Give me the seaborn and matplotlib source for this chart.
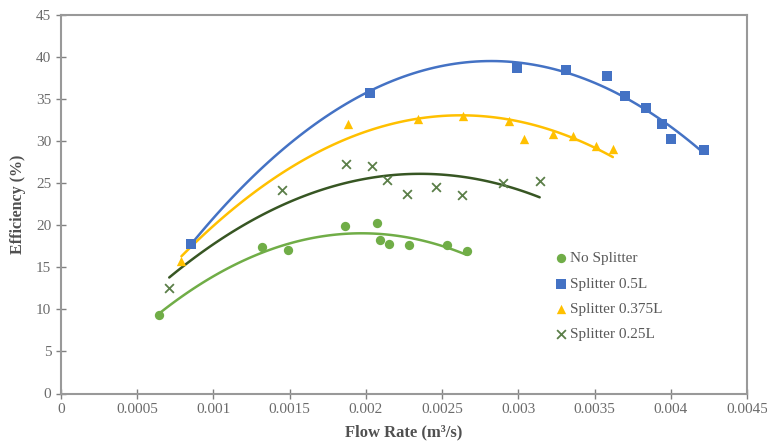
import matplotlib
matplotlib.use("Agg")
import matplotlib.pyplot as plt
import seaborn as sns
import numpy as np
import pandas as pd

# ---- data ----
no_split_x = [0.00064, 0.00132, 0.00149, 0.00186, 0.00207, 0.00209, 0.00215, 0.00228, 0.00253, 0.00266]
no_split_y = [9.3, 17.4, 17.1, 19.9, 20.3, 18.3, 17.8, 17.6, 17.6, 16.9]

s05_x = [0.00085, 0.00203, 0.00299, 0.00331, 0.00358, 0.00370, 0.00384, 0.00394, 0.00400, 0.00422]
s05_y = [17.8, 35.7, 38.7, 38.5, 37.7, 35.4, 34.0, 32.1, 30.3, 28.9]

s0375_x = [0.00079, 0.00188, 0.00234, 0.00264, 0.00294, 0.00304, 0.00323, 0.00336, 0.00351, 0.00362]
s0375_y = [15.8, 32.0, 32.6, 33.0, 32.4, 30.3, 30.8, 30.6, 29.4, 29.1]

s025_x = [0.00071, 0.00145, 0.00187, 0.00204, 0.00214, 0.00227, 0.00246, 0.00263, 0.00290, 0.00314]
s025_y = [12.6, 24.2, 27.3, 27.1, 25.4, 23.7, 24.6, 23.6, 25.0, 25.3]

labels = ["No Splitter", "Splitter 0.5L", "Splitter 0.375L", "Splitter 0.25L"]
x_ticks = [0, 0.0005, 0.001, 0.0015, 0.002, 0.0025, 0.003, 0.0035, 0.004, 0.0045]
x_tick_labels = ["0", "0.0005", "0.001", "0.0015", "0.002", "0.0025", "0.003", "0.0035", "0.004", "0.0045"]
y_ticks = [0, 5, 10, 15, 20, 25, 30, 35, 40, 45]

sns.set_theme(style="white")
plt.rcParams["font.family"] = ["Liberation Serif", "DejaVu Serif"]

fig = plt.figure(figsize=(7.67, 4.45), dpi=100)
ax = fig.add_axes([61/767, 1-393.5/445, (747-61)/767, (393.5-15)/445])

series = [
    (no_split_x, no_split_y, labels[0], "o", "#70AD47", "#70AD47"),
    (s05_x, s05_y, labels[1], "s", "#4472C4", "#4472C4"),
    (s0375_x, s0375_y, labels[2], "^", "#FFC000", "#FFC000"),
    (s025_x, s025_y, labels[3], "x", "#5B7F49", "#375623"),
]

handles = []
for xs, ys, lab, mk, mcol, lcol in series:
    df = pd.DataFrame({"x": xs, "y": ys})
    sns.regplot(data=df, x="x", y="y", order=2, ci=None, ax=ax, scatter=False,
                line_kws=dict(color=lcol, lw=1.8))
    if mk == "x":
        h = ax.scatter(xs, ys, marker="x", s=40, color=mcol, linewidths=1.3, label=lab, zorder=3)
    else:
        h = ax.scatter(xs, ys, marker=mk, s=45, color=mcol, linewidths=0, label=lab, zorder=3)
    handles.append(h)

ax.set_xlim(0, 0.0045)
ax.set_ylim(0, 45)
ax.set_xticks(x_ticks)
ax.set_xticklabels(x_tick_labels)
ax.set_yticks(y_ticks)
ax.tick_params(axis="both", direction="inout", length=7, width=1, color="#808080",
               labelsize=11, labelcolor="#6b6b6b", bottom=True, left=True)
for sp in ax.spines.values():
    sp.set_visible(True)
    sp.set_color("#999999")
    sp.set_linewidth(1.5)

ax.set_xlabel("Flow Rate (m³/s)", fontsize=12, fontweight="bold", color="#505050", labelpad=6)
ax.set_ylabel("Efficiency (%)", fontsize=11.5, fontweight="bold", color="#505050", labelpad=7)

leg = ax.legend(handles=handles, labels=labels, loc="upper left",
                bbox_to_anchor=(0.697, 0.411), frameon=False, fontsize=11,
                handletextpad=0.1, labelspacing=0.75, handlelength=1.0,
                labelcolor="#595959")

fig.savefig("out.png", dpi=100)
